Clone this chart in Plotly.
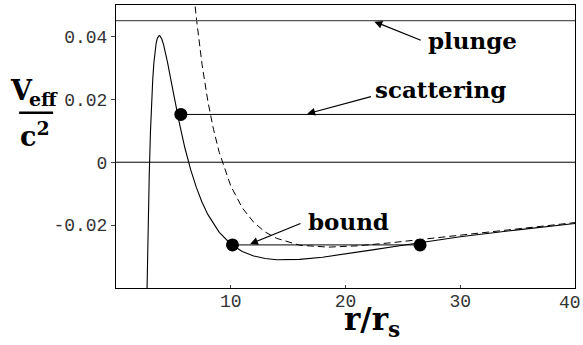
import plotly.graph_objects as go

# effective potential, relativistic (solid)
r_gr = [2.70, 2.72, 2.75, 2.80, 2.85, 2.90, 3.00, 3.10, 3.20, 3.30, 3.40, 3.50, 3.60, 3.70,
        3.77, 3.85, 4.00, 4.15, 4.30, 4.50, 4.80, 5.00, 5.25, 5.50, 6.00, 6.50, 7.00, 7.50,
        8.00, 9.00, 10.0, 11.0, 12.0, 13.0, 14.0, 15.0, 16.0, 18.0, 20.0, 22.5, 25.0, 27.5,
        30.0, 35.0, 40.0]
v_gr = [-0.0414, -0.0367, -0.0301, -0.0200, -0.0112, -0.0035, 0.0093, 0.0190, 0.0262, 0.0316,
        0.0354, 0.0379, 0.0394, 0.0402, 0.0403, 0.0401, 0.0391, 0.0373, 0.0350, 0.0316,
        0.0259, 0.0220, 0.0173, 0.0128, 0.0046, -0.0023, -0.0080, -0.0127, -0.0166, -0.0223,
        -0.0260, -0.0284, -0.0298, -0.0306, -0.0310, -0.0310, -0.0309, -0.0302, -0.0292,
        -0.0278, -0.0264, -0.0250, -0.0237, -0.0215, -0.0195]

# Newtonian potential (dashed)
r_newt = [6.8, 7.0, 7.5, 8.0, 8.5, 9.0, 10.0, 11.0, 12.0, 13.0, 14.0, 16.0, 18.5, 21.0,
          24.0, 27.0, 30.0, 35.0, 40.0]
v_newt = [0.0530, 0.0459, 0.0311, 0.0195, 0.0104, 0.0031, -0.0075, -0.0145, -0.0191, -0.0222,
          -0.0242, -0.0264, -0.0270, -0.0266, -0.0256, -0.0244, -0.0231, -0.0210, -0.0192]

# energy levels
plunge_r, plunge_e = [0, 40], 0.045
scatter_r, scatter_e = [5.65, 40], 0.0152
zero_r, zero_e = [0, 40], 0.0
bound_r, bound_e = [10.15, 26.5], -0.0263

dots_r = [5.65, 10.15, 26.5]
dots_e = [0.0152, -0.0263, -0.0263]

x_ticks = [10, 20, 30, 40]
x_ticktext = ["10", "20", "30", ""]   # "40" is placed by hand at the right edge
y_ticks = [-0.02, 0, 0.02, 0.04]
y_ticktext = ["-0.02", "0", "0.02", "0.04"]

serif = "DejaVu Serif"
mono = dict(family="Liberation Mono", size=18, color="#333333")

fig = go.Figure()

fig.add_trace(go.Scatter(x=r_gr, y=v_gr, mode="lines", line=dict(color="black", width=1.1)))
fig.add_trace(go.Scatter(x=r_newt, y=v_newt, mode="lines",
                         line=dict(color="black", width=1, dash="7px,4px")))
fig.add_trace(go.Scatter(x=plunge_r, y=[plunge_e] * 2, mode="lines",
                         line=dict(color="#555555", width=1.3)))
fig.add_trace(go.Scatter(x=scatter_r, y=[scatter_e] * 2, mode="lines",
                         line=dict(color="black", width=1)))
fig.add_trace(go.Scatter(x=zero_r, y=[zero_e] * 2, mode="lines",
                         line=dict(color="black", width=1)))
fig.add_trace(go.Scatter(x=bound_r, y=[bound_e] * 2, mode="lines",
                         line=dict(color="black", width=1)))
fig.add_trace(go.Scatter(x=dots_r, y=dots_e, mode="markers",
                         marker=dict(color="black", size=13)))

# labels with arrows
labels = [("plunge", 26.98, 0.0387, 26.69, 0.0386, 22.52, 0.0447),
          ("scattering", 22.4, 0.0232, 22.35, 0.0210, 16.67, 0.0154),
          ("bound", 16.6, -0.0190, 16.21, -0.0193, 11.69, -0.0260)]
for text, tx, ty, ax, ay, hx, hy in labels:
    fig.add_annotation(x=tx, y=ty, text="<b>" + text + "</b>", showarrow=False,
                       xanchor="left", yanchor="middle",
                       font=dict(family=serif, size=23, color="black"))
    fig.add_annotation(x=hx, y=hy, ax=ax, ay=ay, axref="x", ayref="y", text="",
                       showarrow=True, arrowhead=2, arrowsize=1.3, arrowwidth=1.2,
                       arrowcolor="black")

# last x tick label, right aligned to the page edge
fig.add_annotation(xref="paper", yref="paper", x=1.0175, y=-0.012, xanchor="right",
                   yanchor="top", showarrow=False, text="40", font=mono)

# axis titles
fig.add_annotation(xref="paper", yref="paper", x=0.558, y=-0.04, yanchor="top",
                   showarrow=False, text="<b>r/r<sub>s</sub></b>",
                   font=dict(family=serif, size=31, color="black"))
fig.add_annotation(xref="paper", yref="paper", x=-0.236, y=0.636, xanchor="left",
                   yanchor="bottom", showarrow=False, text="<b>V</b>",
                   font=dict(family=serif, size=27, color="black"))
fig.add_annotation(xref="paper", yref="paper", x=-0.194, y=0.622, xanchor="left",
                   yanchor="bottom", showarrow=False, text="<b>eff</b>",
                   font=dict(family=serif, size=19, color="black"))
fig.add_annotation(xref="paper", yref="paper", x=-0.214, y=0.612, xanchor="left",
                   yanchor="top", showarrow=False, text="<b>c<sup>2</sup></b>",
                   font=dict(family=serif, size=27, color="black"))
fig.add_shape(type="line", xref="paper", yref="paper", x0=-0.211, x1=-0.137,
              y0=0.619, y1=0.619, line=dict(color="black", width=2.5))

fig.update_layout(
    width=583, height=345,
    margin=dict(l=116, r=8, t=5, b=57),
    plot_bgcolor="white", paper_bgcolor="white",
    showlegend=False,
)
fig.update_xaxes(range=[0, 40], tickvals=x_ticks, ticktext=x_ticktext, ticks="inside",
                 ticklen=3, ticklabelstandoff=-4, showgrid=False, zeroline=False,
                 showline=True, linecolor="black", linewidth=1, mirror=True,
                 automargin=False, tickfont=mono)
fig.update_yaxes(range=[-0.04, 0.05], tickvals=y_ticks, ticktext=y_ticktext,
                 ticks="outside", ticklen=4, showgrid=False, zeroline=False,
                 showline=True, linecolor="black", linewidth=1, mirror=True,
                 automargin=False, tickfont=mono)

# page has a default body margin; drop it so the figure fills the window
fig.write_html("out.html", config={"displayModeBar": False},
               post_script="document.body.style.margin='0';"
                           "document.body.style.overflow='hidden';")
